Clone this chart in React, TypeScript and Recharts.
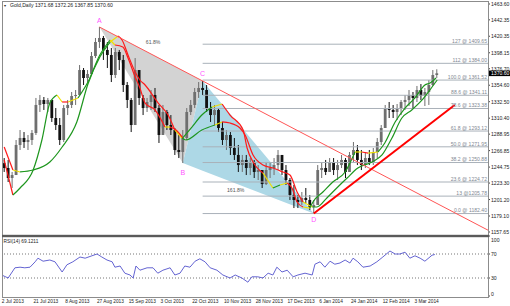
import React from 'react';
import { ComposedChart, Bar, Line, Area, Scatter, XAxis, YAxis, ReferenceLine } from 'recharts';

const FONT = '"Liberation Sans", Arial, sans-serif';

// ---------- data ----------
const header = 'Gold,Daily 1371.68 1372.26 1367.85 1370.60';
const rsiLabel = 'RSI(14) 69.1211';

const dateLabels = ['2 Jul 2013', '21 Jul 2013', '8 Aug 2013', '27 Aug 2013', '15 Sep 2013', '3 Oct 2013', '22 Oct 2013', '10 Nov 2013', '28 Nov 2013', '17 Dec 2013', '6 Jan 2014', '24 Jan 2014', '12 Feb 2014', '3 Mar 2014'];
const dateTickBars = [0, 8, 16, 24, 32, 40, 48, 56, 64, 72, 80, 88, 96, 104];

const firstOpen = 1250.0;
const highs = [
  1256.9, 1254.3, 1238.2, 1281.1, 1294.5, 1291.8, 1287.8, 1294.5, 1337.5, 1341.5,
  1338.8, 1337.5, 1334.8, 1324.0, 1310.6, 1328.1, 1334.8, 1345.5, 1348.2, 1381.7,
  1377.7, 1375.0, 1399.2, 1418.0, 1432.7, 1420.7, 1412.6, 1404.6, 1404.6, 1401.9,
  1395.2, 1358.9, 1337.5, 1391.1, 1375.0, 1341.5, 1337.5, 1348.2, 1350.9, 1328.1,
  1328.1, 1321.4, 1314.6, 1297.2, 1287.8, 1294.5, 1324.0, 1334.8, 1350.9, 1358.9,
  1360.3, 1354.9, 1332.1, 1328.1, 1324.0, 1305.3, 1294.5, 1291.8, 1283.8, 1274.4,
  1261.0, 1261.0, 1256.9, 1254.3, 1247.5, 1240.8, 1251.6, 1251.6, 1256.9, 1267.7,
  1261.0, 1247.5, 1230.1, 1220.7, 1207.3, 1211.3, 1216.7, 1207.3, 1200.6, 1247.5,
  1251.6, 1254.3, 1256.9, 1256.9, 1254.3, 1261.0, 1256.9, 1265.0, 1278.4, 1274.4,
  1267.7, 1265.0, 1267.7, 1270.4, 1283.8, 1301.2, 1328.1, 1332.1, 1328.1, 1329.4,
  1334.8, 1341.5, 1348.2, 1345.5, 1353.6, 1356.2, 1350.9, 1361.6, 1375.0, 1376.0,
];
const lows = [
  1238.2, 1224.7, 1216.7, 1240.8, 1267.7, 1270.4, 1267.7, 1274.4, 1287.8, 1318.7,
  1321.4, 1318.7, 1305.3, 1294.5, 1274.4, 1278.4, 1314.6, 1324.0, 1328.1, 1341.5,
  1354.9, 1358.9, 1372.4, 1391.1, 1404.6, 1388.5, 1377.7, 1358.9, 1364.3, 1375.0,
  1345.5, 1324.0, 1291.8, 1328.1, 1328.1, 1314.6, 1318.7, 1321.4, 1318.7, 1277.1,
  1297.2, 1294.5, 1287.8, 1261.0, 1256.9, 1250.2, 1281.1, 1314.6, 1324.0, 1337.5,
  1341.5, 1318.7, 1305.3, 1301.2, 1291.8, 1274.4, 1267.7, 1261.0, 1254.3, 1238.2,
  1238.2, 1234.1, 1234.1, 1230.1, 1227.4, 1216.7, 1220.7, 1230.1, 1234.1, 1240.8,
  1234.1, 1220.7, 1200.6, 1189.8, 1189.8, 1193.9, 1196.5, 1187.2, 1182.4, 1200.6,
  1230.1, 1234.1, 1238.2, 1234.1, 1227.4, 1243.5, 1230.1, 1240.8, 1251.6, 1247.5,
  1240.8, 1243.5, 1247.5, 1247.5, 1256.9, 1274.4, 1297.2, 1310.6, 1310.6, 1307.9,
  1314.6, 1321.4, 1326.7, 1324.0, 1332.1, 1334.8, 1326.7, 1328.1, 1353.6, 1364.3,
];
const closes = [
  1243.5, 1230.1, 1234.1, 1274.4, 1283.8, 1278.4, 1281.1, 1290.5, 1328.1, 1334.8,
  1329.4, 1334.8, 1310.6, 1301.2, 1281.1, 1324.0, 1328.1, 1340.1, 1341.5, 1375.0,
  1364.3, 1369.7, 1393.8, 1412.6, 1418.0, 1401.9, 1395.2, 1368.3, 1399.2, 1388.5,
  1354.9, 1334.8, 1301.2, 1375.0, 1337.5, 1324.0, 1332.1, 1341.5, 1324.0, 1287.8,
  1318.7, 1301.2, 1294.5, 1267.7, 1265.0, 1283.8, 1318.7, 1328.1, 1345.5, 1350.9,
  1348.2, 1324.0, 1314.6, 1321.4, 1297.2, 1281.1, 1287.8, 1270.4, 1261.0, 1247.5,
  1254.3, 1243.5, 1251.6, 1238.2, 1240.8, 1222.0, 1240.8, 1243.5, 1247.5, 1261.0,
  1240.8, 1227.4, 1207.3, 1200.6, 1197.9, 1203.3, 1200.6, 1191.2, 1193.9, 1240.8,
  1243.5, 1238.2, 1251.6, 1240.8, 1247.5, 1254.3, 1238.2, 1261.0, 1267.7, 1254.3,
  1247.5, 1256.9, 1251.6, 1265.0, 1278.4, 1297.2, 1324.0, 1321.4, 1318.7, 1324.0,
  1332.1, 1334.8, 1341.5, 1337.5, 1348.2, 1340.1, 1345.5, 1354.9, 1368.3, 1370.6,
];

const priceTicks = [1463.60, 1442.35, 1420.35, 1398.15, 1376.70, 1354.60, 1332.50, 1310.40, 1288.95, 1266.85, 1244.75, 1223.30, 1201.20, 1179.10, 1157.65];
const lastPrice = 1370.60;

const fibPrices = [1409.65, 1384.00, 1361.52, 1341.11, 1323.38, 1293.12, 1271.95, 1250.88, 1224.72, 1205.78, 1182.40];
const fibLabels = ['127 @ 1409.65', '112 @ 1384.00', '100.0 @ 1361.52', '88.6 @ 1341.11', '78.6 @ 1323.38', '61.8 @ 1293.12', '50.0 @ 1271.95', '38.2 @ 1250.88', '23.6 @ 1224.72', '13 @1205.78', '0.0 @ 1182.40'];

const patternNames = ['A', 'B', 'C', 'D'];
const patternBars = [24, 45, 50, 78];
const patternPrices = [1432.7, 1250.2, 1360.3, 1182.4];
const ratioAC = '61.8%';
const ratioBD = '161.8%';
const supportEndBar = 113.5;
const supportEndPrice = 1328.0;

// moving averages: [bar, value, segment colour g/r/y]
const maFast: [number, number, string][] = [
  [0, 1254.3, 'r'], [2.2, 1207.3, 'g'], [4.0, 1216.7, 'g'], [7.3, 1240.8, 'g'], [9.5, 1281.1, 'g'],
  [11.5, 1330.7, 'g'], [13.3, 1341.5, 'y'], [14.6, 1332.1, 'r'], [16.1, 1332.1, 'y'], [18.6, 1337.5, 'g'],
  [21.1, 1358.9, 'g'], [24.1, 1395.2, 'g'], [26.7, 1415.3, 'y'], [27.9, 1408.6, 'r'], [29.9, 1405.9, 'r'],
  [31.2, 1391.1, 'r'], [33.0, 1365.6, 'r'], [34.2, 1350.9, 'r'], [35.5, 1330.7, 'r'], [38.0, 1321.4, 'r'],
  [40.5, 1298.5, 'y'], [41.8, 1298.5, 'r'], [43.3, 1294.5, 'r'], [45.0, 1283.8, 'g'], [47.3, 1298.5, 'g'],
  [49.8, 1314.6, 'g'], [52.4, 1325.4, 'y'], [54.9, 1329.4, 'r'], [56.9, 1314.6, 'r'], [60.2, 1294.5, 'r'],
  [61.2, 1270.4, 'r'], [62.7, 1251.6, 'r'], [65.2, 1236.8, 'y'], [67.7, 1216.7, 'g'], [69.5, 1220.7, 'y'],
  [71.3, 1223.4, 'r'], [72.5, 1216.7, 'r'], [73.8, 1197.9, 'r'], [75.3, 1191.2, 'y'], [77.0, 1189.8, 'g'],
  [77.8, 1197.9, 'g'], [80.3, 1211.3, 'g'], [82.8, 1224.7, 'g'], [85.9, 1238.2, 'g'], [88.4, 1265.0, 'y'],
  [90.1, 1265.0, 'r'], [91.7, 1263.6, 'y'], [94.2, 1265.0, 'g'], [95.9, 1277.1, 'g'], [98.5, 1305.3, 'g'],
  [101.0, 1324.0, 'g'], [103.5, 1337.5, 'g'], [106.0, 1354.9, 'g'], [107.3, 1357.6, 'g'], [108.8, 1364.3, 'g'],
];
const maSlow: [number, number, string][] = [
  [0, 1271.7, 'r'], [2.2, 1240.8, 'y'], [4.0, 1238.2, 'g'], [7.3, 1240.8, 'g'], [11.5, 1251.6, 'g'],
  [14.6, 1271.7, 'g'], [18.3, 1305.3, 'g'], [21.1, 1356.2, 'g'], [24.1, 1392.5, 'g'], [26.7, 1412.6, 'y'],
  [28.7, 1420.7, 'r'], [29.7, 1415.3, 'r'], [31.2, 1395.2, 'r'], [33.0, 1372.4, 'r'], [34.2, 1361.6, 'r'],
  [35.5, 1354.9, 'r'], [38.8, 1330.7, 'r'], [41.3, 1314.6, 'r'], [43.0, 1294.5, 'y'], [44.8, 1283.8, 'g'],
  [45.8, 1281.1, 'g'], [49.8, 1294.5, 'g'], [53.1, 1301.2, 'y'], [54.9, 1305.3, 'r'], [56.9, 1303.9, 'r'],
  [59.4, 1297.2, 'r'], [60.7, 1287.8, 'r'], [62.7, 1261.0, 'r'], [65.2, 1247.5, 'r'], [67.7, 1243.5, 'r'],
  [70.2, 1238.2, 'r'], [72.0, 1234.1, 'r'], [73.8, 1211.3, 'r'], [75.3, 1197.9, 'y'], [77.6, 1191.2, 'g'],
  [78.8, 1191.2, 'g'], [81.3, 1203.3, 'g'], [83.8, 1216.7, 'g'], [86.4, 1230.1, 'g'], [89.1, 1243.5, 'g'],
  [92.7, 1251.6, 'g'], [95.2, 1261.0, 'g'], [97.7, 1283.8, 'g'], [100.2, 1310.6, 'g'], [102.7, 1321.4, 'g'],
  [105.3, 1334.8, 'g'], [107.8, 1352.2, 'g'], [109.1, 1361.6, 'g'],
];

const rsiBars = [
  -0.3, 1.0, 1.5, 2.7, 4.0, 5.2, 6.5, 7.8, 8.5, 9.8, 11.5, 12.8, 14.6, 15.8, 17.3, 19.1, 20.4, 22.1, 23.4, 24.6,
  25.9, 27.2, 27.9, 29.2, 30.4, 31.7, 32.5, 33.2, 34.2, 36.0, 37.5, 38.7, 40.0, 41.8, 43.0, 44.3, 45.5, 46.8, 48.1, 49.3,
  50.6, 51.9, 53.6, 55.1, 56.9, 58.2, 59.9, 61.4, 62.4, 63.9, 65.2, 66.5, 67.7, 68.7, 70.0, 71.3, 72.8, 74.0, 75.8, 77.6,
  78.3, 79.6, 80.8, 82.1, 83.3, 84.6, 85.9, 87.1, 87.9, 89.1, 90.4, 92.2, 93.9, 95.4, 97.2, 98.5, 99.7, 101.0, 102.2, 103.5,
  104.8, 106.0, 107.8, 108.5,
];
const rsiValues = [
  34, 30, 35, 47, 48, 47, 48, 57, 63, 58, 60, 57, 40, 52, 57, 65, 63, 67, 70, 65,
  60, 57, 48, 50, 38, 35, 30, 50, 43, 47, 47, 38, 43, 47, 35, 38, 50, 48, 58, 62,
  57, 47, 43, 35, 30, 35, 30, 23, 32, 32, 30, 38, 35, 48, 40, 43, 32, 35, 38, 35,
  53, 57, 48, 58, 53, 55, 60, 55, 63, 57, 48, 50, 57, 65, 75, 70, 70, 73, 63, 67,
  63, 58, 68, 69.12,
];
const rsiTicks = [0, 30, 70, 100];
const rsiLevels = [70, 30];

// ---------- derived tables ----------
const X_DOMAIN: [number, number] = [-0.3, 121.9];
const PRICE_DOMAIN: [number, number] = [1152.27, 1466.28];

const candles = highs.map((h, k) => ({
  i: k,
  range: [lows[k], h],
  open: k === 0 ? firstOpen : closes[k - 1],
  close: closes[k],
}));

type P = { i: number; v: number };
const pts: P[] = patternBars.map((b, k) => ({ i: b, v: patternPrices[k] }));
const [A, B, C, D] = pts;
const lineAt = (p: P, q: P, i: number) => p.v + ((q.v - p.v) * (i - p.i)) / (q.i - p.i);

const grayTri = [
  { i: A.i, r: [A.v, A.v] },
  { i: B.i, r: [B.v, lineAt(A, C, B.i)] },
  { i: C.i, r: [C.v, C.v] },
];
const blueTri = [
  { i: B.i, r: [B.v, B.v] },
  { i: C.i, r: [lineAt(B, D, C.i), C.v] },
  { i: D.i, r: [D.v, D.v] },
];
const acLine = [A, { i: X_DOMAIN[1], v: lineAt(A, C, X_DOMAIN[1]) }];
const supportLine = [D, { i: supportEndBar, v: supportEndPrice }];

const annotations = [
  ...pts.map((p, k) => ({ ...p, kind: 'letter', text: patternNames[k] })),
  ...fibPrices.map((v, k) => ({ i: X_DOMAIN[1], v, kind: 'fib', text: fibLabels[k] })),
  { i: (A.i + C.i) / 2, v: (A.v + C.v) / 2, kind: 'ratioAC', text: ratioAC },
  { i: (B.i + D.i) / 2, v: (B.v + D.v) / 2, kind: 'ratioBD', text: ratioBD },
];

const MA_COLORS: Record<string, string> = { g: '#1e961e', r: '#ff1a1a', y: '#f0e000' };
function runs(points: [number, number, string][]) {
  const out: { color: string; data: P[] }[] = [];
  for (let k = 0; k < points.length - 1; k++) {
    const c = points[k][2];
    const p0 = { i: points[k][0], v: points[k][1] };
    const p1 = { i: points[k + 1][0], v: points[k + 1][1] };
    const last = out[out.length - 1];
    if (last && last.color === c) last.data.push(p1);
    else out.push({ color: c, data: [p0, p1] });
  }
  return out;
}
const maRuns = [...runs(maSlow), ...runs(maFast)];

const rsiData = rsiBars.map((i, k) => ({ i, v: rsiValues[k] }));

// ---------- renderers ----------
const Candle = (props: any) => {
  const { x, y, width, height, payload } = props;
  if (!payload || x == null || y == null) return null;
  const [lo, hi] = payload.range;
  const h = Math.abs(height);
  const top = height >= 0 ? y : y + height;
  const span = hi - lo || 1;
  const py = (v: number) => top + ((hi - v) / span) * h;
  const up = payload.close >= payload.open;
  const color = up ? '#6f6f6f' : '#111';
  const cx = x + width / 2;
  const bTop = py(Math.max(payload.open, payload.close));
  const bBot = py(Math.min(payload.open, payload.close));
  return (
    <g>
      <rect x={cx - 0.5} y={top} width={1} height={Math.max(h, 1)} fill={color} />
      <rect x={cx - 1.4} y={bTop} width={2.8} height={Math.max(bBot - bTop, 1)} fill={color} />
    </g>
  );
};

const letterOffset: Record<string, number> = { A: -7, B: 9, C: -7, D: 6 };
const Annotation = (props: any) => {
  const { cx, cy, payload } = props;
  if (!payload || cx == null) return null;
  if (payload.kind === 'letter')
    return (
      <text x={cx} y={cy + letterOffset[payload.text]} textAnchor="middle" dominantBaseline="central" fontSize={7} fill="#ff55ff" fontFamily={FONT}>
        {payload.text}
      </text>
    );
  if (payload.kind === 'fib')
    return (
      <text x={cx - 1} y={cy - 1.3} textAnchor="end" fontSize={5.1} fill="#7f8993" fontFamily={FONT}>
        {payload.text}
      </text>
    );
  if (payload.kind === 'ratioAC')
    return (
      <text x={cx + 2} y={cy - 10} textAnchor="middle" fontSize={5.1} fill="#555" fontFamily={FONT}>
        {payload.text}
      </text>
    );
  return (
    <text x={cx - 4} y={cy + 4} textAnchor="end" fontSize={5.1} fill="#555" fontFamily={FONT}>
      {payload.text}
    </text>
  );
};

const PriceTick = (props: any) => {
  const { x, y, payload } = props;
  const v = payload.value as number;
  if (v === lastPrice)
    return (
      <g>
        <rect x={x - 2.5} y={y - 2.8} width={22} height={5.6} fill="#000" />
        <text x={x} y={y} dominantBaseline="central" fontSize={5.1} fill="#fff" fontFamily={FONT}>
          {v.toFixed(2)}
        </text>
      </g>
    );
  return (
    <text x={x} y={y} dominantBaseline="central" fontSize={5.1} fill="#222" fontFamily={FONT}>
      {v.toFixed(2)}
    </text>
  );
};

const RsiTick = (props: any) => {
  const { x, y, payload } = props;
  const v = payload.value as number;
  const dy = v === 100 ? 4 : v === 0 ? -2 : 0;
  return (
    <text x={x} y={y + dy} dominantBaseline="central" fontSize={5.1} fill="#222" fontFamily={FONT}>
      {v}
    </text>
  );
};

const DateTick = (props: any) => {
  const { x, payload } = props;
  const idx = dateTickBars.indexOf(payload.value);
  return (
    <text x={x - 2.5} y={68} textAnchor="start" fontSize={4.8} fill="#222" fontFamily={FONT}>
      {dateLabels[idx]}
    </text>
  );
};

export default function App() {
  return (
    <div style={{ position: 'absolute', left: 0, top: 0, width: 510, height: 306, background: '#fff' }}>
      <div style={{ position: 'absolute', left: 0, top: 0 }}>
        <ComposedChart width={510} height={237} data={candles} margin={{ top: 2, right: 0, bottom: 1, left: 3 }}>
          <XAxis dataKey="i" type="number" domain={X_DOMAIN} allowDataOverflow hide />
          <YAxis
            orientation="right"
            width={22}
            domain={PRICE_DOMAIN}
            allowDataOverflow
            ticks={[...priceTicks, lastPrice]}
            interval={0}
            tickSize={2}
            tickMargin={1}
            axisLine={false}
            tickLine={{ stroke: '#444' }}
            tick={PriceTick}
          />
          <Area data={grayTri} dataKey="r" type="linear" fill="#d3d3d3" fillOpacity={1} stroke="none" isAnimationActive={false} />
          <Area data={blueTri} dataKey="r" type="linear" fill="#add8e6" fillOpacity={1} stroke="none" isAnimationActive={false} />
          {fibPrices.map((v, k) => (
            <Line
              key={'fib' + k}
              data={[{ i: C.i, v }, { i: X_DOMAIN[1], v }]}
              dataKey="v"
              type="linear"
              stroke="#a9b1b9"
              strokeWidth={1}
              dot={false}
              activeDot={false}
              isAnimationActive={false}
            />
          ))}
          <Bar dataKey="range" barSize={3} shape={Candle} isAnimationActive={false} />
          {maRuns.map((r, k) => (
            <Line
              key={'ma' + k}
              data={r.data}
              dataKey="v"
              type="monotone"
              stroke={MA_COLORS[r.color]}
              strokeWidth={1.2}
              dot={false}
              activeDot={false}
              isAnimationActive={false}
            />
          ))}
          <Line data={acLine} dataKey="v" type="linear" stroke="#ff5555" strokeWidth={1} dot={false} activeDot={false} isAnimationActive={false} />
          <Line data={supportLine} dataKey="v" type="linear" stroke="#ff0000" strokeWidth={2} dot={false} activeDot={false} isAnimationActive={false} />
          <Scatter data={annotations} dataKey="v" shape={Annotation} isAnimationActive={false} />
        </ComposedChart>
      </div>
      <div style={{ position: 'absolute', left: 0, top: 235 }}>
        <ComposedChart width={510} height={71} data={rsiData} margin={{ top: 1, right: 0, bottom: 0, left: 3 }}>
          <XAxis
            dataKey="i"
            type="number"
            domain={X_DOMAIN}
            allowDataOverflow
            ticks={dateTickBars}
            interval={0}
            tickLine={false}
            tickSize={0}
            tickMargin={0}
            axisLine={false}
            height={10}
            tick={DateTick}
          />
          <YAxis
            orientation="right"
            width={22}
            domain={[0, 100]}
            ticks={rsiTicks}
            interval={0}
            tickSize={2}
            tickMargin={1}
            axisLine={false}
            tickLine={{ stroke: '#444' }}
            tick={RsiTick}
          />
          {rsiLevels.map((l) => (
            <ReferenceLine key={l} y={l} stroke="#777" strokeDasharray="1 2" />
          ))}
          <Line dataKey="v" type="linear" stroke="#6464d2" strokeWidth={1} dot={false} activeDot={false} isAnimationActive={false} />
        </ComposedChart>
      </div>
      <svg width={510} height={306} style={{ position: 'absolute', left: 0, top: 0, pointerEvents: 'none' }}>
        <rect x={2.5} y={1.5} width={486} height={296} fill="none" stroke="#8c8c8c" />
        <rect x={2} y={234.8} width={487} height={2.4} fill="#5a5a5a" />
        <text x={3.2} y={7.2} fontSize={3.6} fill="#333" fontFamily={FONT}>▼</text>
        <text x={10} y={7.3} fontSize={5.1} fill="#222" fontFamily={FONT}>{header}</text>
        <text x={3.5} y={243} fontSize={4.8} fill="#222" fontFamily={FONT}>{rsiLabel}</text>
      </svg>
    </div>
  );
}
